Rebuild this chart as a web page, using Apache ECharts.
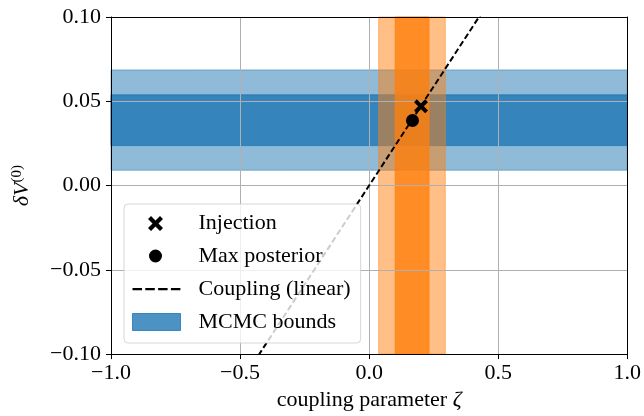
<!DOCTYPE html>
<html><head><meta charset="utf-8">
<script src="https://cdn.jsdelivr.net/npm/echarts@6/dist/echarts.min.js"></script>
<style>html,body{margin:0;padding:0;background:#fff}#c{width:644px;height:416px}</style>
</head><body><div id="c"></div>
<script>
// ---- data ----
const xTicks = [-1, -0.5, 0, 0.5, 1];
const xTickLabels = ['−1.0', '−0.5', '0.0', '0.5', '1.0'];
const yTicks = [-0.1, -0.05, 0, 0.05, 0.1];
const yTickLabels = ['−0.10', '−0.05', '0.00', '0.05', '0.10'];

// MCMC bounds (outer / inner credible intervals)
const deltaVOuter = [0.0091, 0.0686];
const deltaVInner = [0.0237, 0.0538];
const zetaOuter = [0.037, 0.295];
const zetaInner = [0.101, 0.232];

// points [zeta, deltaV]
const injection = [0.201, 0.047];
const maxPosterior = [0.168, 0.0386];

// coupling (linear) line endpoints
const couplingZeta = [-1, 1];
const couplingDeltaV = [-0.235, 0.235];

// ---- chart ----
const FONT = 'Liberation Serif';
const xMin = xTicks[0], xMax = xTicks[xTicks.length - 1];
const yMin = yTicks[0], yMax = yTicks[yTicks.length - 1];
function tickFmt(ticks, labels) {
  return function (v) {
    let best = 0;
    for (let i = 1; i < ticks.length; i++) if (Math.abs(ticks[i] - v) < Math.abs(ticks[best] - v)) best = i;
    return labels[best];
  };
}
const bandData = [
  [deltaVOuter[0], deltaVOuter[1], 0],
  [deltaVInner[0], deltaVInner[1], 0],
  [zetaOuter[0], zetaOuter[1], 1],
  [zetaInner[0], zetaInner[1], 1]
];
const bandColors = ['rgba(31,119,180,0.5)', 'rgba(31,119,180,0.8)', 'rgba(255,127,14,0.5)', 'rgba(255,127,14,0.8)'];

const xPath = 'path://M0.2,0L0.5,0.3L0.8,0L1,0.2L0.7,0.5L1,0.8L0.8,1L0.5,0.7L0.2,1L0,0.8L0.3,0.5L0,0.2Z';
const corner = 'M0,0h0.01v0.01h-0.01zM47.99,16.99h0.01v0.01h-0.01z';
const iconX = 'path://' + corner + 'M18.5,1.5L23,6L27.5,1.5L30.5,4.5L26,9L30.5,13.5L27.5,16.5L23,12L18.5,16.5L15.5,13.5L20,9L15.5,4.5Z';
const iconO = 'path://' + corner + 'M16.5,8.5A6.5,6.5,0,1,1,29.5,8.5A6.5,6.5,0,1,1,16.5,8.5Z';
const iconDash = 'path://' + corner + 'M0,7.5h9.5v2.2h-9.5zM12.8,7.5h9.5v2.2h-9.5zM25.6,7.5h9.5v2.2h-9.5zM38.4,7.5h9.5v2.2h-9.5z';

const chart = echarts.init(document.getElementById('c'), null, { renderer: 'canvas' });
const axisLineStyle = { color: '#000', width: 1 };
const labelStyle = { fontFamily: FONT, fontSize: 22, color: '#000' };
chart.setOption({
  animation: false,
  grid: { left: 111, right: 13, top: 17, bottom: 61, containLabel: false },
  xAxis: [{
    type: 'value', min: xMin, max: xMax, interval: 0.5, z: 3,
    axisLine: { show: true, onZero: false, lineStyle: axisLineStyle },
    axisTick: { show: true, length: 5, lineStyle: axisLineStyle },
    axisLabel: Object.assign({ margin: 8, formatter: tickFmt(xTicks, xTickLabels) }, labelStyle),
    splitLine: { show: true, lineStyle: { color: '#b0b0b0', width: 1 } },
    name: '{n|coupling parameter }{i|ζ}', nameLocation: 'middle', nameGap: 32,
    nameTextStyle: { rich: { n: { fontFamily: FONT, fontSize: 22, color: '#000' }, i: { fontFamily: FONT, fontSize: 22, fontStyle: 'italic', color: '#000' } } }
  }, {
    type: 'value', min: xMin, max: xMax, position: 'top', z: 3,
    axisLine: { show: true, onZero: false, lineStyle: axisLineStyle },
    axisTick: { show: false }, axisLabel: { show: false }, splitLine: { show: false }
  }],
  yAxis: [{
    type: 'value', min: yMin, max: yMax, interval: 0.05, z: 3,
    axisLine: { show: true, onZero: false, lineStyle: axisLineStyle },
    axisTick: { show: true, length: 5, lineStyle: axisLineStyle },
    axisLabel: Object.assign({ margin: 10, formatter: tickFmt(yTicks, yTickLabels) }, labelStyle),
    splitLine: { show: true, lineStyle: { color: '#b0b0b0', width: 1 } },
    name: '{i|δV}{s|(0)}', nameLocation: 'middle', nameGap: 76, nameRotate: 90,
    nameTextStyle: { rich: { i: { fontFamily: FONT, fontSize: 22, fontStyle: 'italic', color: '#000' }, s: { fontFamily: FONT, fontSize: 15, color: '#000', padding: [0, 0, 10, 0] } } }
  }, {
    type: 'value', min: yMin, max: yMax, position: 'right', z: 3,
    axisLine: { show: true, onZero: false, lineStyle: axisLineStyle },
    axisTick: { show: false }, axisLabel: { show: false }, splitLine: { show: false }
  }],
  legend: {
    orient: 'vertical', left: 124, top: 204, z: 6, selectedMode: false,
    itemWidth: 48, itemHeight: 17, itemGap: 11, padding: [8, 10, 10, 8],
    backgroundColor: 'rgba(255,255,255,0.8)', borderColor: 'rgba(204,204,204,0.8)', borderWidth: 1, borderRadius: 4,
    textStyle: { fontFamily: FONT, fontSize: 22, color: '#000', lineHeight: 17, padding: [0, 0, 0, 13] },
    data: [
      { name: 'Injection', icon: iconX, itemStyle: { color: '#000', borderWidth: 0, opacity: 1 } },
      { name: 'Max posterior', icon: iconO, itemStyle: { color: '#000', borderWidth: 0, opacity: 1 } },
      { name: 'Coupling (linear)', icon: iconDash, itemStyle: { color: '#000', borderWidth: 0, opacity: 1 }, lineStyle: { width: 0 } },
      { name: 'MCMC bounds', icon: 'rect', itemStyle: { color: 'rgba(31,119,180,0.8)', borderColor: 'rgba(31,119,180,0.8)', borderWidth: 1, opacity: 1 } }
    ]
  },
  series: [{
    name: 'MCMC bounds', type: 'custom', z: 2, silent: true,
    data: bandData,
    encode: { x: 0, y: 1 },
    renderItem: function (params, api) {
      const lo = api.value(0), hi = api.value(1), dir = api.value(2);
      let p1, p2;
      if (dir === 0) { p1 = api.coord([xMin, hi]); p2 = api.coord([xMax, lo]); }
      else { p1 = api.coord([lo, yMax]); p2 = api.coord([hi, yMin]); }
      const c = bandColors[params.dataIndex];
      return { type: 'rect', z2: params.dataIndex,
        shape: { x: p1[0], y: p1[1], width: p2[0] - p1[0], height: p2[1] - p1[1] },
        style: { fill: c, stroke: c, lineWidth: 1 } };
    }
  }, {
    name: 'Coupling (linear)', type: 'line', z: 4, symbol: 'none', clip: true,
    data: couplingZeta.map((z, i) => [z, couplingDeltaV[i]]),
    lineStyle: { color: '#000', width: 2, type: [6, 3] }
  }, {
    name: 'Max posterior', type: 'scatter', z: 5, symbol: 'circle', symbolSize: 13,
    itemStyle: { color: '#000', opacity: 1 }, data: [maxPosterior]
  }, {
    name: 'Injection', type: 'scatter', z: 5, symbol: xPath, symbolSize: 14,
    itemStyle: { color: '#000', opacity: 1 }, data: [injection]
  }]
});
</script></body></html>
